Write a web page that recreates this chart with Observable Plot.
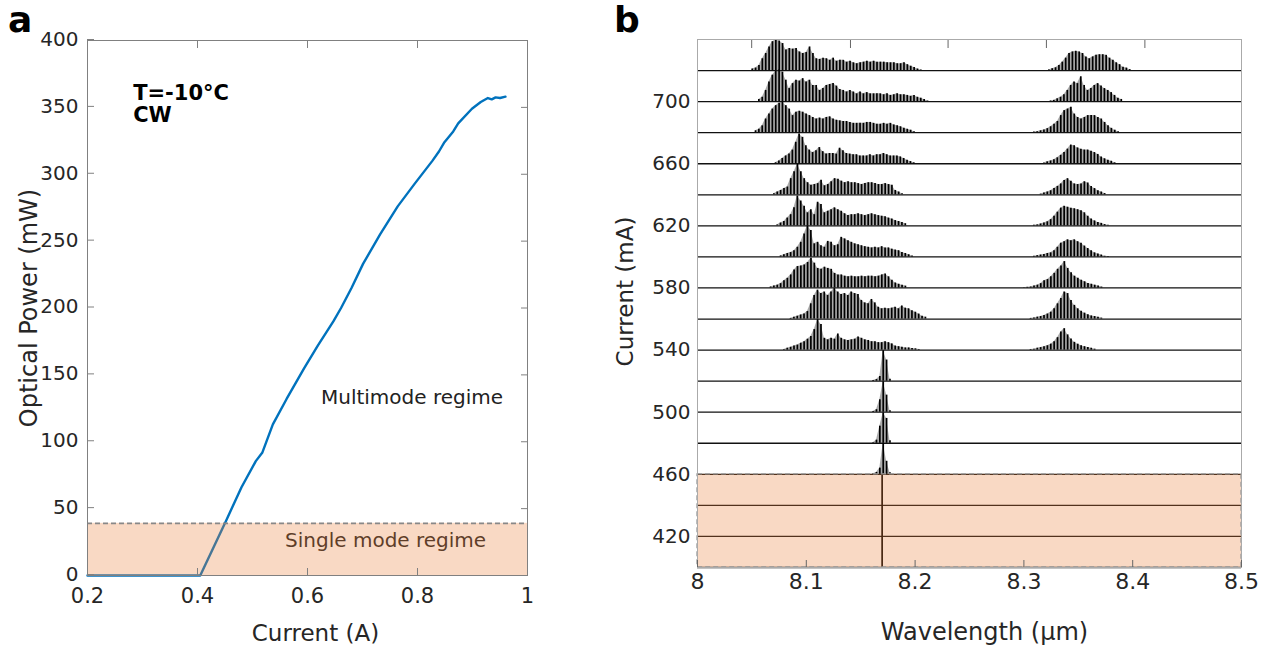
<!DOCTYPE html>
<html><head><meta charset="utf-8">
<script src="https://cdn.jsdelivr.net/npm/d3@7"></script>
<script src="https://cdn.jsdelivr.net/npm/@observablehq/plot@0.6"></script>
<style>
body{margin:0;background:#fff;}
#fig{position:relative;width:1278px;height:646px;font-family:"DejaVu Sans",sans-serif;overflow:hidden;}
#fig svg{position:absolute;top:0;}
.plabel{position:absolute;font-weight:bold;font-size:36px;line-height:1;color:#000;}
</style></head><body>
<div id="fig"><div class="plabel" style="left:8px;top:2px">a</div><div class="plabel" style="left:614px;top:2px">b</div></div>
<script>
// ---------- Panel a: L-I curve ----------
const currentA = [0.20, 0.30, 0.405, 0.452, 0.480, 0.506, 0.518, 0.537, 0.562, 0.594, 0.619, 0.647, 0.661, 0.680, 0.701, 0.732, 0.764, 0.795, 0.827, 0.839, 0.849, 0.865, 0.874, 0.899, 0.915, 0.928, 0.935, 0.942, 0.950, 0.960];
const powerMW  = [0, 0, 0, 41, 66, 85.5, 92, 113, 132, 155, 172, 190, 200, 215, 233, 255, 276, 293, 310, 317, 324, 332, 338, 349, 354, 357, 356, 357.5, 357, 358];
const singleModeLimitMW = 39;
const xTicksA = [0.2, 0.4, 0.6, 0.8, 1];
const yTicksA = [0, 50, 100, 150, 200, 250, 300, 350, 400];

// ---------- Panel b: stacked spectra ----------
const traceCurrents = [400, 420, 440, 460, 480, 500, 520, 540, 560, 580, 600, 620, 640, 660, 680, 700, 720];
const currentLabels = [420, 460, 500, 540, 580, 620, 660, 700];
const wavelengthTicks = [8, 8.1, 8.2, 8.3, 8.4, 8.5];
const topTickMarks = [8.0498, 8.1406, 8.2303, 8.3207, 8.4112];
const traceStep = 20;       // mA between traces; heights below are % of this step
const modeSpacing = 0.0031; // µm, Fabry-Perot mode spacing read from the comb
const singleModeRange = [400, 460];

const multiCurrents = [540, 560, 580, 600, 620, 640, 660, 680, 700, 720];
const shortLobeStart = [8.0794, 8.0855, 8.0671, 8.0763, 8.0732, 8.0702, 8.0717, 8.0533, 8.0564, 8.0503];
const shortLobeHeights = [
  [2,6,9,13,16,22,27,35,44,66,98,82,38,33,38,35,52,38,33,31,33,35,42,38,33,31,27,27,24,24,27,24,20,13,11,9,7,7,5,4,2],
  [2,6,9,13,16,24,49,76,93,82,87,76,87,98,87,79,82,76,87,82,79,60,52,49,63,52,38,33,35,33,35,38,33,42,35,33,27,22,16,9,6],
  [3,6,9,14,23,31,42,58,69,71,74,82,96,80,63,60,67,63,60,47,42,42,38,36,38,36,36,38,36,38,38,36,38,42,45,36,25,16,12,9,6],
  [3,7,11,14,20,31,47,74,100,85,42,47,36,31,50,47,36,39,63,58,52,47,42,39,36,33,31,29,31,29,33,29,29,25,22,20,14,11,7,3],
  [3,9,14,25,36,58,96,80,63,42,52,36,76,69,42,47,52,58,52,47,39,33,36,36,39,36,33,36,39,36,33,31,29,25,22,17,14,11,7],
  [3,9,14,20,25,52,74,98,74,52,39,31,33,36,47,29,33,42,52,50,44,39,42,39,39,36,33,36,39,39,36,33,33,36,33,31,14,9,3],
  [3,9,17,25,31,44,69,96,85,58,44,36,42,52,39,31,33,33,31,50,42,33,31,29,29,25,25,25,29,25,29,29,33,29,25,25,25,22,17,11,7,3],
  [6,11,22,44,60,76,87,95,98,87,76,55,66,69,66,60,55,49,44,47,44,49,51,44,40,38,36,36,33,30,30,30,30,33,33,30,27,27,30,27,30,25,22,19,14,11,8,3],
  [7,14,36,63,85,98,102,95,69,42,58,69,66,74,63,69,52,52,36,42,52,55,58,50,39,36,31,36,31,25,31,25,29,25,25,25,25,22,25,20,22,25,22,22,20,17,20,14,11,7,2],
  [5,8,16,38,55,76,93,98,95,87,66,71,69,71,60,55,58,76,55,38,36,40,38,33,40,30,33,33,27,30,25,22,25,27,30,27,30,27,27,27,25,25,25,22,22,25,19,14,10,5,2]
];
const longLobeStart = [8.3061, 8.3061, 8.3000, 8.3091, 8.3091, 8.3153, 8.3183, 8.3091, 8.3244, 8.3229];
const longLobeHeights = [
  [2,3,6,8,11,14,19,27,40,58,69,49,36,25,19,14,11,8,6,3],
  [2,3,6,8,11,16,22,33,49,66,87,82,60,44,33,25,19,14,10,8,6,3],
  [1,2,3,6,9,14,23,27,36,47,60,71,85,63,49,38,31,25,20,14,12,9,6,3],
  [2,4,6,8,11,13,20,31,44,49,55,52,55,49,44,35,27,20,13,9,6,2,1],
  [2,3,6,9,13,20,31,44,57,63,60,57,55,52,49,42,31,22,16,11,8,4,2],
  [2,6,9,13,20,27,35,46,52,44,35,33,35,42,38,27,20,13,9,4],
  [2,6,9,13,19,27,36,47,60,58,51,47,44,44,40,36,30,22,16,11,8,3],
  [2,3,6,9,13,19,27,36,55,71,76,82,60,49,44,49,55,55,55,49,44,33,22,14,8,3],
  [2,4,9,14,22,36,52,63,58,80,52,36,42,52,58,50,42,36,29,20,11,7],
  [2,6,9,16,27,40,55,60,62,60,55,44,38,44,49,51,51,49,40,33,25,19,11,8,3]
];
const singleCurrents = [460, 480, 500, 520];
const singleStart = 8.1614;
const singleHeights = [
  [2,6,20,100,42,5],
  [2,10,55,98,80,8],
  [2,8,40,98,55,5],
  [2,5,15,98,68,6]
];
const pinnedCurrents = [400, 420, 440];
const pinnedLambda = 8.1697;
const pinnedHeight = 100;

// ---------- build tables ----------
const liData = currentA.map((x, i) => ({x, y: powerMW[i]}));
const modes = [];
const addLobe = (key, c, start, hs) => hs.forEach((h, i) => modes.push({key, lambda: start + i * modeSpacing, base: c, top: c + h * traceStep / 100}));
multiCurrents.forEach((c, k) => { addLobe(c + "s", c, shortLobeStart[k], shortLobeHeights[k]); addLobe(c + "l", c, longLobeStart[k], longLobeHeights[k]); });
singleCurrents.forEach((c, k) => addLobe(c + "m", c, singleStart, singleHeights[k]));
pinnedCurrents.forEach(c => modes.push({key: c + "p", lambda: pinnedLambda, base: c, top: c + pinnedHeight * traceStep / 100}));

const shadeFill = "rgb(235,130,60)";
const shadeOpacity = 0.3;
const baseStyle = {fontFamily: "DejaVu Sans, sans-serif", fontSize: "20px", color: "#262626", background: "transparent", overflow: "visible"};

const plotA = Plot.plot({
  width: 560, height: 646,
  marginLeft: 87, marginRight: 33, marginTop: 40, marginBottom: 71,
  style: baseStyle,
  x: {domain: [0.2, 1]},
  y: {domain: [0, 400]},
  marks: [
    Plot.line(liData, {x: "x", y: "y", stroke: "#0072BD", strokeWidth: 2.4}),
    Plot.text([{x: 0.79, y: 133, t: "Multimode regime"}], {x: "x", y: "y", text: "t", fontSize: 20, fill: "#222"}),
    Plot.text([{x: 0.742, y: 26, t: "Single mode regime"}], {x: "x", y: "y", text: "t", fontSize: 20, fill: "#222"}),
    Plot.text([{x: 0.283, y: 367, t: "T=-10°C"}], {x: "x", y: "y", text: "t", fontSize: 21, fontWeight: "bold", fill: "#000", textAnchor: "start", lineAnchor: "top"}),
    Plot.text([{x: 0.283, y: 350, t: "CW"}], {x: "x", y: "y", text: "t", fontSize: 21, fontWeight: "bold", fill: "#000", textAnchor: "start", lineAnchor: "top"}),
    Plot.rect([{x1: 0.2, x2: 1, y1: 0, y2: singleModeLimitMW}], {x1: "x1", x2: "x2", y1: "y1", y2: "y2", fill: shadeFill, fillOpacity: shadeOpacity}),
    Plot.ruleY([singleModeLimitMW], {stroke: "#888", strokeWidth: 1.6, strokeDasharray: "5,3"}),
    Plot.frame({stroke: "#808080"}),
    Plot.axisX(xTicksA, {anchor: "bottom", tickSize: -7, tickPadding: 20, stroke: "#808080", fontSize: 21, tickFormat: d => String(d), label: null}),
    Plot.axisX(xTicksA, {anchor: "top", tickSize: -7, tickFormat: () => "", stroke: "#808080", label: null}),
    Plot.axisY(yTicksA, {anchor: "left", tickSize: -7, tickPadding: 16, dy: -1, stroke: "#808080", label: null}),
    Plot.axisY(yTicksA, {anchor: "right", tickSize: -7, tickFormat: () => "", stroke: "#808080", label: null}),
    Plot.text(["Current (A)"], {frameAnchor: "bottom", dy: 58, dx: 8, lineAnchor: "middle", textAnchor: "middle", fontSize: 23, fill: "#262626"}),
    Plot.text(["Optical Power (mW)"], {frameAnchor: "left", dx: -58, rotate: -90, lineAnchor: "middle", textAnchor: "middle", fontSize: 24, fill: "#262626"})
  ]
});
plotA.style.left = "0px";

const plotB = Plot.plot({
  width: 718, height: 646,
  marginLeft: 137, marginRight: 37, marginTop: 39, marginBottom: 79,
  style: baseStyle,
  x: {domain: [8, 8.5]},
  y: {domain: [400, 740]},
  marks: [
    Plot.ruleY(traceCurrents, {stroke: "#111", strokeWidth: 1.3}),
    Plot.areaY(modes, {x: "lambda", y1: "base", y2: "top", z: "key", fill: "#444", fillOpacity: 0.45}),
    Plot.ruleX(modes, {x: "lambda", y1: "base", y2: "top", stroke: "#000", strokeWidth: 1.7}),
    Plot.rect([{x1: 8, x2: 8.5, y1: singleModeRange[0], y2: singleModeRange[1]}], {x1: "x1", x2: "x2", y1: "y1", y2: "y2", fill: shadeFill, fillOpacity: shadeOpacity, stroke: "#999", strokeDasharray: "5,3", strokeWidth: 1.3}),
    Plot.frame({stroke: "#aaa"}),
    Plot.axisX(wavelengthTicks, {anchor: "bottom", tickSize: -7, tickPadding: 13, stroke: "#666", fontSize: 22, tickFormat: d => String(d), label: null}),
    Plot.axisX(topTickMarks, {anchor: "top", tickSize: -8, tickFormat: () => "", stroke: "#666", label: null}),
    Plot.axisY(currentLabels, {anchor: "left", tickSize: 0, tickPadding: 7, label: null}),
    Plot.text(["Wavelength (μm)"], {frameAnchor: "bottom", dy: 65, dx: 15, lineAnchor: "middle", textAnchor: "middle", fontSize: 24, fill: "#262626"}),
    Plot.text(["Current (mA)"], {frameAnchor: "left", dx: -72, dy: -12, rotate: -90, lineAnchor: "middle", textAnchor: "middle", fontSize: 23, fill: "#262626"})
  ]
});
plotB.style.left = "560px";

const fig = document.getElementById("fig");
fig.appendChild(plotA);
fig.appendChild(plotB);
</script>
</body></html>
